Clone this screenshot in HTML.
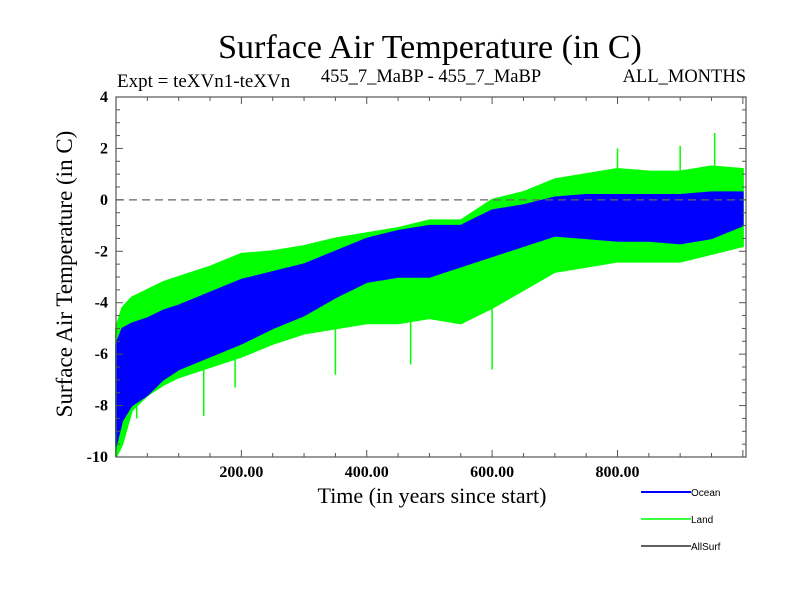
<!DOCTYPE html>
<html><head><meta charset="utf-8"><style>
body{margin:0;background:#fff}
svg text{font-family:"Liberation Serif",serif}
</style></head><body>
<svg id="chart" width="800" height="600" viewBox="0 0 800 600">
<text x="430" y="58" font-size="34" text-anchor="middle">Surface Air Temperature (in C)</text>
<text x="117" y="87" font-size="19">Expt = teXVn1-teXVn</text>
<text x="431" y="82" font-size="18.5" text-anchor="middle">455_7_MaBP - 455_7_MaBP</text>
<text x="746" y="82" font-size="18.5" text-anchor="end">ALL_MONTHS</text>
<g id="plot"></g>
<text x="432" y="503" font-size="22" text-anchor="middle">Time (in years since start)</text>
<text transform="translate(72,274) rotate(-90)" font-size="23" text-anchor="middle">Surface Air Temperature (in C)</text>
<g font-family="Liberation Sans" font-size="10">
<g><line x1="641" y1="492" x2="691" y2="492" stroke="#0000ff" stroke-width="2"/><text x="691" y="496" style="font-family:'Liberation Sans',sans-serif">Ocean</text></g>
<g><line x1="641" y1="519" x2="691" y2="519" stroke="#00ff00" stroke-width="1.5"/><text x="691" y="523" style="font-family:'Liberation Sans',sans-serif">Land</text></g>
<g><line x1="641" y1="546" x2="691" y2="546" stroke="#000" stroke-width="1.2"/><text x="691" y="550" style="font-family:'Liberation Sans',sans-serif">AllSurf</text></g>
</g>
</svg>
<script>
const years=[0,10,25,50,75,100,150,200,250,300,350,400,450,500,550,600,650,700,750,800,850,900,950,1000];
const oceanHi=[-5.6,-5.0,-4.8,-4.6,-4.3,-4.1,-3.6,-3.1,-2.8,-2.5,-2.0,-1.5,-1.2,-1.0,-1.0,-0.4,-0.2,0.1,0.2,0.2,0.2,0.2,0.3,0.3];
const oceanLo=[-9.6,-8.6,-8.0,-7.6,-7.0,-6.6,-6.1,-5.6,-5.0,-4.5,-3.8,-3.2,-3.0,-3.0,-2.6,-2.2,-1.8,-1.4,-1.5,-1.6,-1.6,-1.7,-1.5,-1.0];
const landHi=[-5.0,-4.2,-3.8,-3.5,-3.2,-3.0,-2.6,-2.1,-2.0,-1.8,-1.5,-1.3,-1.1,-0.8,-0.8,0.0,0.3,0.8,1.0,1.2,1.1,1.1,1.3,1.2];
const landLo=[-10,-9.5,-8.2,-7.6,-7.2,-6.9,-6.5,-6.1,-5.6,-5.2,-5.0,-4.8,-4.8,-4.6,-4.8,-4.2,-3.5,-2.8,-2.6,-2.4,-2.4,-2.4,-2.1,-1.8];
const landSpikeYears=[33,140,190,350,470,600,800,900,955];
const landSpikeVals=[-8.5,-8.4,-7.3,-6.8,-6.4,-6.6,2.0,2.1,2.6];
const xTicks=[200,400,600,800];
const xTickLabels=["200.00","400.00","600.00","800.00"];
const yTicks=[-10,-8,-6,-4,-2,0,2,4];
const yTickLabels=["-10","-8","-6","-4","-2","0","2","4"];

const L=116,R=746,T=97,B=457,X0=0,X1=1005,Y0=-10,Y1=4;
const sx=v=>L+(v-X0)/(X1-X0)*(R-L);
const sy=v=>B-(v-Y0)/(Y1-Y0)*(B-T);
const NS="http://www.w3.org/2000/svg";
const g=document.getElementById('plot');
function mk(tag,attrs,parent){const e=document.createElementNS(NS,tag);for(const k in attrs)e.setAttribute(k,attrs[k]);(parent||g).appendChild(e);return e;}
function band(hi,lo){let p=years.map((y,i)=>sx(y)+','+sy(hi[i]));for(let i=years.length-1;i>=0;i--)p.push(sx(years[i])+','+sy(lo[i]));return p.join(' ');}

const land=mk('polygon',{points:band(landHi,landLo),fill:'#00ff00',stroke:'#00ff00','stroke-width':2});


landSpikeYears.forEach((yr,i)=>{
  const j=years.findIndex(v=>v>=yr);
  const base=landSpikeVals[i]<0?landLo[j]:landHi[j];
  const s=mk('line',{x1:sx(yr),x2:sx(yr),y1:sy(base),y2:sy(landSpikeVals[i]),stroke:'#00ff00','stroke-width':1.5});
  
  
});
const ocean=mk('polygon',{points:band(oceanHi,oceanLo),fill:'#0000ff',stroke:'#0000ff','stroke-width':1.5});



const zero=mk('line',{x1:L,x2:R,y1:sy(0),y2:sy(0),stroke:'#666','stroke-width':1.3,'stroke-dasharray':'8,5'});



const frame=mk('rect',{x:L,y:T,width:R-L,height:B-T,fill:'none',stroke:'#555','stroke-width':1.2});



for(let v=50;v<X1;v+=50){const maj=v%200===0;const len=maj?7:4;
  mk('line',{x1:sx(v),x2:sx(v),y1:B,y2:B-len,stroke:'#555'});
  mk('line',{x1:sx(v),x2:sx(v),y1:T,y2:T+len,stroke:'#555'});}
for(let v=Y0+0.5;v<Y1;v+=0.5){const maj=Math.abs(v%2)<1e-9;const len=maj?7:4;
  mk('line',{x1:L,x2:L+len,y1:sy(v),y2:sy(v),stroke:'#555'});
  mk('line',{x1:R,x2:R-len,y1:sy(v),y2:sy(v),stroke:'#555'});}
xTicks.forEach((v,i)=>{const t=mk('text',{x:sx(v),y:B+20,'font-size':16,'text-anchor':'middle','font-weight':'bold'});t.textContent=xTickLabels[i];
  
  });
yTicks.forEach((v,i)=>{const t=mk('text',{x:108,y:sy(v)+5,'font-size':16,'text-anchor':'end','font-weight':'bold'});t.textContent=yTickLabels[i];
  
  });
</script>
</body></html>
